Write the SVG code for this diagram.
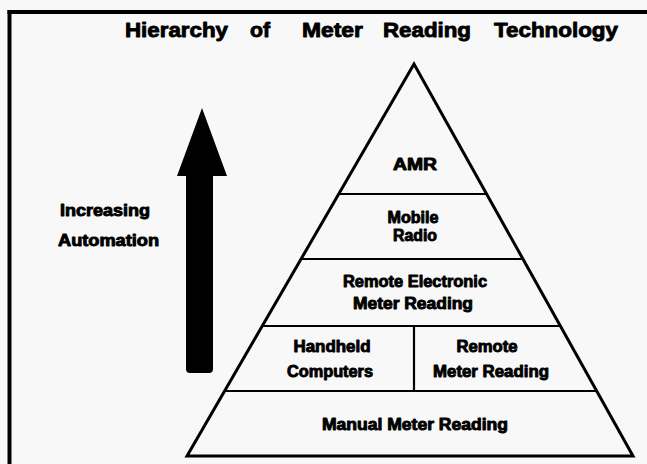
<svg xmlns="http://www.w3.org/2000/svg" width="647" height="464" viewBox="0 0 647 464">
  <style>
    .t { font-family: "Liberation Sans", Arial, sans-serif; font-weight: bold; fill: #000; stroke: #000; stroke-width: 0.9; stroke-linejoin: round; }
    .title { font-size: 21px; }
    .lbl { font-size: 16px; text-anchor: middle; }
    .side { font-size: 16px; }
    .edge { fill: none; stroke: #000; stroke-width: 3; stroke-linejoin: miter; }
    .div { fill: none; stroke: #000; stroke-width: 2.2; }
  </style>
  <rect width="647" height="464" fill="#f8f8f8"/>

  <!-- frame (top and left rules) -->
  <g id="frame" fill="none" stroke="#000" stroke-width="4">
    <line x1="7.5" y1="12" x2="647" y2="12"/>
    <line x1="9.5" y1="10" x2="9.5" y2="464"/>
  </g>

  <!-- heading -->
  <g id="title" class="t title">
    <text x="125" y="37" textLength="103" lengthAdjust="spacingAndGlyphs">Hierarchy</text>
    <text x="250" y="37" textLength="20" lengthAdjust="spacingAndGlyphs">of</text>
    <text x="302" y="37" textLength="61" lengthAdjust="spacingAndGlyphs">Meter</text>
    <text x="383" y="37" textLength="88" lengthAdjust="spacingAndGlyphs">Reading</text>
    <text x="494" y="37" textLength="124" lengthAdjust="spacingAndGlyphs">Technology</text>
  </g>

  <!-- automation arrow -->
  <g id="automation-arrow">
    <path d="M202,108 L227,176 L213,176 L213,369 Q213,373 209,373 L190,373 Q186,373 186,369 L186,176 L177,176 Z" fill="#000"/>
    <g class="t side">
      <text x="60" y="216" textLength="90" lengthAdjust="spacingAndGlyphs">Increasing</text>
      <text x="58" y="246" textLength="101" lengthAdjust="spacingAndGlyphs">Automation</text>
    </g>
  </g>

  <!-- pyramid outline and tier dividers -->
  <g id="pyramid">
    <path class="edge" d="M187,456 L414,64 L633,456 Z"/>
    <line class="div" x1="338.7" y1="194" x2="486.6" y2="194"/>
    <line class="div" x1="301.1" y1="259" x2="522.9" y2="259"/>
    <line class="div" x1="262.3" y1="326" x2="560.3" y2="326"/>
    <line class="div" x1="224.7" y1="391" x2="596.6" y2="391"/>
    <line class="div" x1="414" y1="326" x2="414" y2="391"/>
  </g>

  <!-- tiers -->
  <g id="tier-amr" class="t lbl">
    <text x="415" y="170" textLength="44" lengthAdjust="spacingAndGlyphs">AMR</text>
  </g>
  <g id="tier-mobile-radio" class="t lbl">
    <text x="413" y="223" textLength="51" lengthAdjust="spacingAndGlyphs">Mobile</text>
    <text x="415" y="241" textLength="44" lengthAdjust="spacingAndGlyphs">Radio</text>
  </g>
  <g id="tier-remote-electronic" class="t lbl">
    <text x="415" y="287" textLength="144" lengthAdjust="spacingAndGlyphs">Remote Electronic</text>
    <text x="413" y="309" textLength="120" lengthAdjust="spacingAndGlyphs">Meter Reading</text>
  </g>
  <g id="tier-handheld" class="t lbl">
    <text x="332" y="352" textLength="77" lengthAdjust="spacingAndGlyphs">Handheld</text>
    <text x="330" y="377" textLength="86" lengthAdjust="spacingAndGlyphs">Computers</text>
  </g>
  <g id="tier-remote-meter" class="t lbl">
    <text x="487" y="352" textLength="61" lengthAdjust="spacingAndGlyphs">Remote</text>
    <text x="491" y="377" textLength="116" lengthAdjust="spacingAndGlyphs">Meter Reading</text>
  </g>
  <g id="tier-manual" class="t lbl">
    <text x="415" y="430" textLength="186" lengthAdjust="spacingAndGlyphs">Manual Meter Reading</text>
  </g>

  <!-- no connectors: the tier dividers above separate the levels -->
  <g id="connectors"/>
</svg>
